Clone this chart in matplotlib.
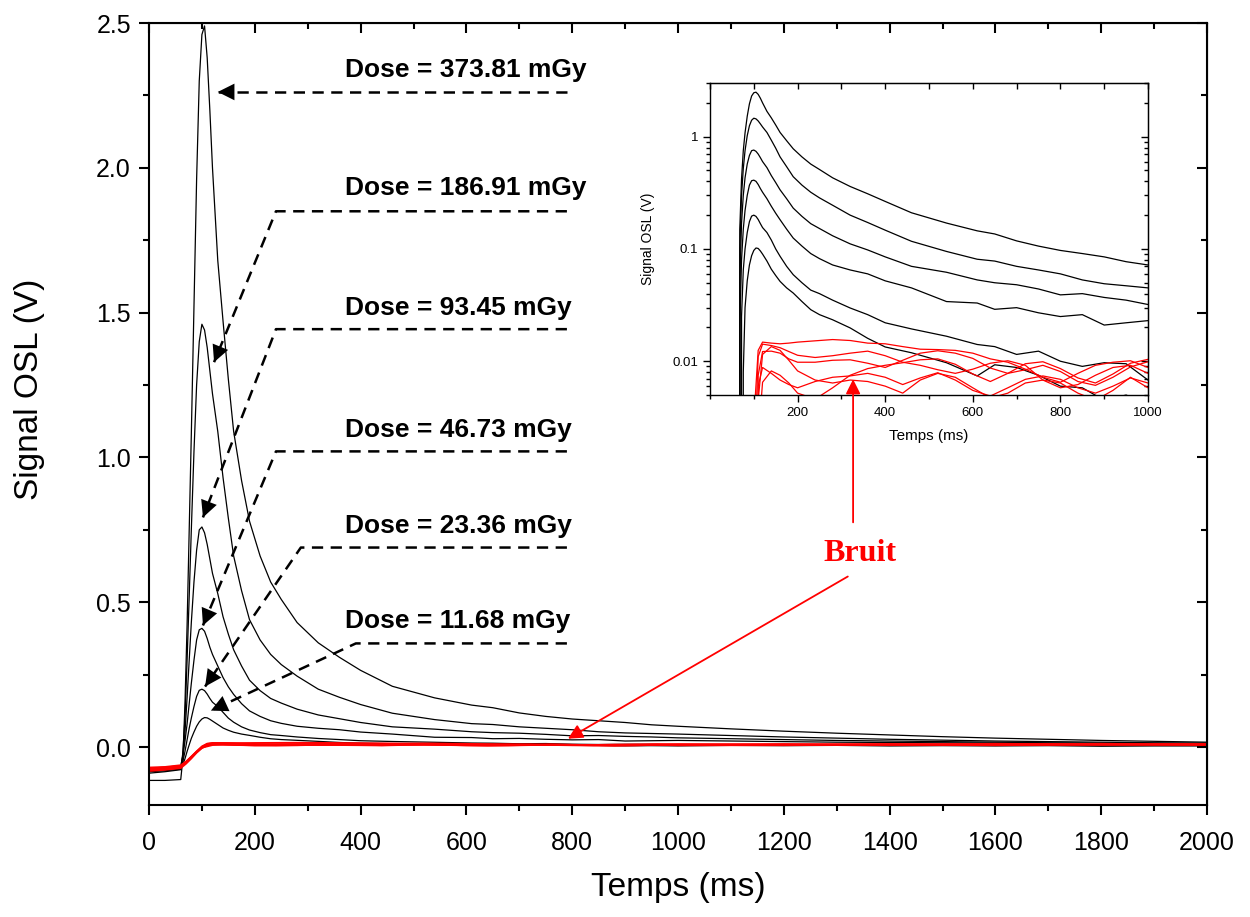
import numpy as np
import matplotlib
matplotlib.use("Agg")
import matplotlib.pyplot as plt
from matplotlib.ticker import MultipleLocator, FixedLocator, LogLocator, NullFormatter

plt.rcParams['font.family'] = ['Liberation Sans', 'DejaVu Sans']

# temps (ms) et signaux OSL
t = [0, 30, 60, 64, 68, 72, 76, 80, 85, 90, 95, 100, 105, 110, 115, 120, 130, 140, 150, 160,
     175, 190, 210, 230, 250, 280, 320, 360, 400, 460, 540, 610, 650, 700, 750, 800, 850, 900, 950, 1000,
     1100, 1200, 1300, 1400, 1500, 1600, 1700, 1800, 1900, 2000]

dose_373 = [-0.115, -0.115, -0.112, -0.04, 0.15, 0.42, 0.75, 1.08, 1.52, 1.96, 2.3, 2.46, 2.49, 2.38, 2.2, 2.0, 1.68, 1.47, 1.27, 1.09,
            0.92, 0.78, 0.66, 0.57, 0.51, 0.43, 0.36, 0.31, 0.265, 0.21, 0.17, 0.145, 0.136, 0.118, 0.106, 0.097, 0.091, 0.085, 0.077, 0.072,
            0.063, 0.055, 0.048, 0.042, 0.036, 0.031, 0.027, 0.023, 0.02, 0.017]
dose_186 = [-0.082, -0.078, -0.072, -0.02, 0.1, 0.3, 0.52, 0.75, 1.02, 1.25, 1.4, 1.46, 1.44, 1.38, 1.3, 1.22, 1.09, 0.93, 0.79, 0.66,
            0.54, 0.44, 0.37, 0.32, 0.285, 0.245, 0.2, 0.172, 0.147, 0.117, 0.095, 0.081, 0.078, 0.07, 0.065, 0.06, 0.053, 0.049, 0.047, 0.045,
            0.04, 0.035, 0.031, 0.027, 0.024, 0.021, 0.019, 0.017, 0.015, 0.014]
dose_93 = [-0.09, -0.085, -0.078, -0.03, 0.05, 0.17, 0.3, 0.43, 0.57, 0.68, 0.75, 0.76, 0.74, 0.7, 0.65, 0.6, 0.53, 0.45, 0.39, 0.336,
           0.28, 0.231, 0.195, 0.168, 0.152, 0.131, 0.111, 0.098, 0.085, 0.07, 0.062, 0.053, 0.05, 0.048, 0.044, 0.039, 0.04, 0.037, 0.035, 0.032,
           0.029, 0.026, 0.023, 0.021, 0.019, 0.017, 0.015, 0.014, 0.013, 0.012]
dose_46 = [-0.072, -0.07, -0.066, -0.03, 0.02, 0.08, 0.15, 0.22, 0.3, 0.37, 0.405, 0.41, 0.4, 0.375, 0.345, 0.32, 0.28, 0.24, 0.208, 0.182,
           0.15, 0.125, 0.106, 0.091, 0.082, 0.072, 0.065, 0.06, 0.052, 0.045, 0.034, 0.033, 0.029, 0.03, 0.027, 0.025, 0.026, 0.021, 0.022, 0.023,
           0.021, 0.019, 0.017, 0.016, 0.015, 0.014, 0.013, 0.012, 0.011, 0.011]
dose_23 = [-0.085, -0.082, -0.076, -0.05, -0.015, 0.025, 0.065, 0.1, 0.14, 0.175, 0.196, 0.2, 0.195, 0.183, 0.168, 0.155, 0.14, 0.12, 0.1, 0.086,
           0.07, 0.059, 0.05, 0.043, 0.04, 0.035, 0.0298, 0.026, 0.022, 0.0194, 0.0167, 0.0141, 0.0135, 0.0115, 0.0123, 0.01, 0.009, 0.0097, 0.0095, 0.0068,
           0.008, 0.009, 0.007, 0.008, 0.007, 0.008, 0.006, 0.007, 0.006, 0.007]
dose_11 = [-0.078, -0.074, -0.07, -0.06, -0.04, -0.015, 0.008, 0.03, 0.052, 0.072, 0.087, 0.097, 0.102, 0.101, 0.096, 0.09, 0.078, 0.066, 0.058, 0.0514,
           0.045, 0.0405, 0.034, 0.0288, 0.026, 0.0234, 0.0198, 0.016, 0.0134, 0.0119, 0.0097, 0.0074, 0.0093, 0.0088, 0.0075, 0.006, 0.0058, 0.0045, 0.005, 0.0042,
           0.006, 0.005, 0.006, 0.004, 0.005, 0.004, 0.005, 0.003, 0.004, 0.004]

doses = [dose_373, dose_186, dose_93, dose_46, dose_23, dose_11]
dose_labels = ["Dose = 373.81 mGy", "Dose = 186.91 mGy", "Dose = 93.45 mGy",
               "Dose = 46.73 mGy", "Dose = 23.36 mGy", "Dose = 11.68 mGy"]

# bruit (sans irradiation)
t_bruit = [0, 30, 60, 70, 80, 90, 100, 110, 120, 140, 160, 180, 200, 240, 280, 320, 360, 400, 440, 480,
           520, 560, 600, 640, 680, 720, 760, 800, 840, 880, 920, 960, 1000, 1200, 1400, 1600, 1800, 2000]
bruit_1 = [-0.075, -0.072, -0.066, -0.05, -0.032, -0.014, 0.003, 0.0125, 0.0148, 0.0145, 0.0143, 0.0145, 0.0148, 0.0152, 0.0156, 0.0153, 0.0145, 0.0143, 0.0135, 0.0128,
           0.0127, 0.0125, 0.0118, 0.0105, 0.0098, 0.0085, 0.0072, 0.0065, 0.0078, 0.0092, 0.0098, 0.0101, 0.0088, 0.011, 0.009, 0.012, 0.01, 0.011]
bruit_2 = [-0.08, -0.076, -0.07, -0.055, -0.036, -0.017, 0.001, 0.011, 0.0142, 0.0138, 0.0132, 0.0122, 0.0113, 0.0108, 0.0112, 0.0118, 0.0123, 0.0112, 0.0098, 0.0092,
           0.0084, 0.0078, 0.0085, 0.0096, 0.0101, 0.0092, 0.0068, 0.0058, 0.0062, 0.0075, 0.0088, 0.0092, 0.0078, 0.009, 0.011, 0.008, 0.011, 0.01]
bruit_3 = [-0.07, -0.068, -0.062, -0.05, -0.033, -0.015, 0.0, 0.0075, 0.0122, 0.0123, 0.0118, 0.0105, 0.0098, 0.0098, 0.0102, 0.0103, 0.0096, 0.0088, 0.0102, 0.0118,
           0.0124, 0.0118, 0.0106, 0.0087, 0.0078, 0.0084, 0.0092, 0.0081, 0.0066, 0.0061, 0.0072, 0.0089, 0.0099, 0.008, 0.01, 0.009, 0.012, 0.009]
bruit_4 = [-0.083, -0.079, -0.073, -0.058, -0.04, -0.02, -0.003, 0.006, 0.0088, 0.0078, 0.0068, 0.0062, 0.0058, 0.0066, 0.0072, 0.0074, 0.0078, 0.0072, 0.0062, 0.0071,
           0.0079, 0.0068, 0.0055, 0.0049, 0.0058, 0.0069, 0.0074, 0.0069, 0.0058, 0.0052, 0.006, 0.0071, 0.0064, 0.007, 0.009, 0.007, 0.008, 0.008]
bruit_5 = [-0.078, -0.075, -0.068, -0.054, -0.037, -0.019, -0.004, 0.0045, 0.0115, 0.0135, 0.0125, 0.0102, 0.0082, 0.0068, 0.0064, 0.0068, 0.0066, 0.006, 0.0052, 0.0068,
           0.0078, 0.0072, 0.0058, 0.0047, 0.0052, 0.0064, 0.0068, 0.0064, 0.0052, 0.0045, 0.0055, 0.0072, 0.0058, 0.006, 0.008, 0.006, 0.009, 0.007]
bruit_6 = [-0.073, -0.07, -0.064, -0.05, -0.034, -0.017, -0.002, 0.002, 0.0065, 0.0082, 0.0075, 0.0064, 0.0052, 0.0046, 0.0058, 0.0075, 0.0086, 0.0092, 0.0097, 0.0103,
           0.0105, 0.0094, 0.0077, 0.0066, 0.0078, 0.0095, 0.0099, 0.0086, 0.0071, 0.0064, 0.0077, 0.0096, 0.0104, 0.009, 0.007, 0.01, 0.008, 0.009]
bruits = [bruit_1, bruit_2, bruit_3, bruit_4, bruit_5, bruit_6]

# fleches pointillees : (texte, coin, pointe)
text_pos = [(370, 2.338), (370, 1.93), (370, 1.515), (370, 1.094), (370, 0.765), (370, 0.434)]
line_y = [2.262, 1.85, 1.443, 1.021, 0.689, 0.358]
corner_x = [157, 240, 240, 240, 287, 391]
tips = [(130, 2.262), (123, 1.329), (102, 0.793), (102, 0.42), (106, 0.209), (117, 0.126)]
line_end_x = 790

fig = plt.figure(figsize=(12.5, 9.17), dpi=100)
ax = fig.add_axes([0.1192, 0.1221, 0.8464, 0.8528])

for d in doses:
    ax.plot(t, d, color='black', lw=0.9)
for b in bruits:
    ax.plot(t_bruit, b, color='red', lw=1.1)

ax.set_xlim(0, 2000)
ax.set_ylim(-0.2, 2.5)
ax.xaxis.set_major_locator(MultipleLocator(200))
ax.xaxis.set_minor_locator(MultipleLocator(100))
ax.yaxis.set_major_locator(MultipleLocator(0.5))
ax.yaxis.set_minor_locator(MultipleLocator(0.25))
ax.yaxis.set_major_formatter(plt.FormatStrFormatter('%.1f'))
ax.tick_params(which='both', direction='out', width=1.5, labelsize=18, top=False, right=False)
ax.tick_params(which='major', length=7)
ax.tick_params(which='minor', length=4)
ax.tick_params(axis='x', pad=12)
ax.tick_params(axis='y', pad=6)
for s in ax.spines.values():
    s.set_linewidth(1.5)
ax.set_xlabel("Temps (ms)", fontsize=24)
ax.set_ylabel("Signal OSL (V)", fontsize=24)
ax.xaxis.set_label_coords(0.5, -0.086)
ax.yaxis.set_label_coords(-0.098, 0.531)

secx = ax.secondary_xaxis('top')
secx.xaxis.set_major_locator(MultipleLocator(200))
secx.xaxis.set_minor_locator(MultipleLocator(100))
secx.tick_params(which='both', direction='in', width=1.5, labeltop=False)
secx.tick_params(which='major', length=7)
secx.tick_params(which='minor', length=4)
secy = ax.secondary_yaxis('right')
secy.yaxis.set_major_locator(MultipleLocator(0.5))
secy.yaxis.set_minor_locator(MultipleLocator(0.25))
secy.tick_params(which='both', direction='in', width=1.5, labelright=False)
secy.tick_params(which='major', length=7)
secy.tick_params(which='minor', length=4)

for i in range(6):
    xs = [line_end_x, corner_x[i], tips[i][0]]
    ys = [line_y[i], line_y[i], tips[i][1]]
    ax.plot(xs, ys, color='black', lw=1.8, ls=(0, (4.5, 3)))
    bx = tips[i][0] + 0.3 * (corner_x[i] - tips[i][0])
    by = tips[i][1] + 0.3 * (line_y[i] - tips[i][1])
    ax.annotate('', xy=tips[i], xytext=(bx, by),
                arrowprops=dict(arrowstyle='-|>', mutation_scale=30, color='black',
                                lw=0, shrinkA=0, shrinkB=0))
    ax.text(text_pos[i][0], text_pos[i][1], dose_labels[i], fontsize=19, fontweight='bold',
            ha='left', va='center')

ax.text(1344, 0.669, "Bruit", color='red', fontsize=23, fontweight='bold',
        family=['Liberation Serif', 'DejaVu Serif'], ha='center', va='center')

# encart en echelle log
ins = fig.add_axes([0.568, 0.5692, 0.3504, 0.3402])
for d in doses:
    ins.plot(t, d, color='black', lw=0.9)
for b in bruits:
    ins.plot(t_bruit, b, color='red', lw=0.9)
ins.set_yscale('log')
ins.set_xlim(0, 1000)
ins.set_ylim(0.005, 3)
ins.xaxis.set_major_locator(FixedLocator([200, 400, 600, 800, 1000]))
ins.xaxis.set_minor_locator(MultipleLocator(100))
ins.yaxis.set_major_locator(FixedLocator([0.01, 0.1, 1]))
ins.yaxis.set_major_formatter(plt.FixedFormatter(['0.01', '0.1', '1']))
ins.yaxis.set_minor_locator(LogLocator(base=10, subs=np.arange(2, 10)))
ins.yaxis.set_minor_formatter(NullFormatter())
ins.tick_params(which='both', direction='out', width=1, labelsize=9.5, top=False, right=False)
ins.tick_params(which='major', length=5)
ins.tick_params(which='minor', length=3)
for s in ins.spines.values():
    s.set_linewidth(1.0)
ins.set_xlabel("Temps (ms)", fontsize=11)
ins.set_ylabel("Signal OSL (V)", fontsize=10)
ins.xaxis.set_label_coords(0.5, -0.11)
ins.yaxis.set_label_coords(-0.125, 0.5)
isx = ins.secondary_xaxis('top')
isx.xaxis.set_major_locator(MultipleLocator(100))
isx.tick_params(direction='in', length=4, width=1, labeltop=False)
isy = ins.secondary_yaxis('right')
isy.yaxis.set_major_locator(FixedLocator([0.01, 0.1, 1]))
isy.yaxis.set_minor_locator(LogLocator(base=10, subs=np.arange(2, 10)))
isy.yaxis.set_minor_formatter(NullFormatter())
isy.tick_params(which='both', direction='in', width=1, labelright=False)
isy.tick_params(which='major', length=5)
isy.tick_params(which='minor', length=3)

# fleches rouges vers le bruit
red_arrow = dict(arrowstyle='-|>', mutation_scale=22, color='red', lw=1.3, shrinkA=0, shrinkB=0)
ins.annotate('', xy=(1331, 1.27), xycoords=ax.transData, xytext=(1331, 0.776),
             textcoords=ax.transData, arrowprops=red_arrow, annotation_clip=False)
ax.annotate('', xy=(792, 0.029), xytext=(1321, 0.589), arrowprops=red_arrow)

fig.savefig("out.png", dpi=100)
